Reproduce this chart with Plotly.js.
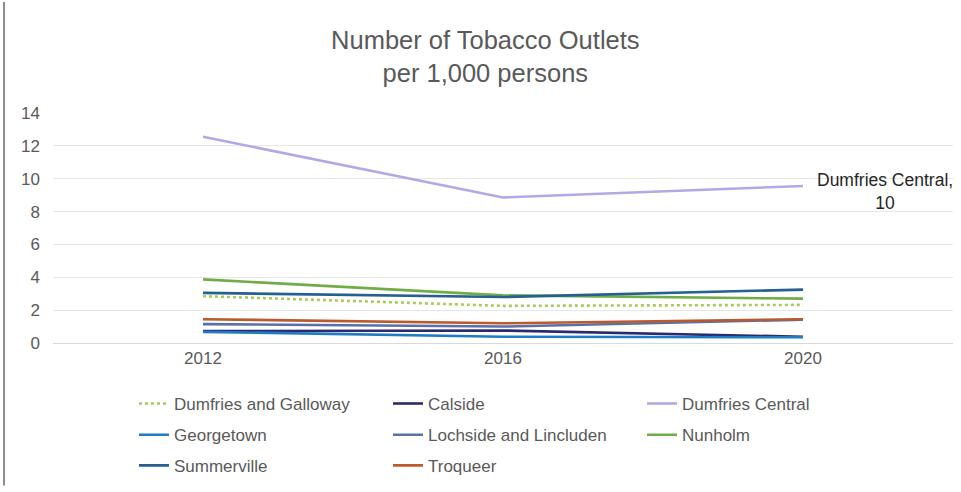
<!DOCTYPE html>
<html>
<head>
<meta charset="utf-8">
<script src="https://cdn.plot.ly/plotly-3.0.1.min.js"></script>
<style>
  html, body { margin: 0; padding: 0; background: #fff; }
  #chart { width: 961px; height: 492px; }
</style>
</head>
<body>
<div id="chart"></div>
<script>
const years = ['2012', '2016', '2020'];
const seriesNames = ['Dumfries and Galloway', 'Calside', 'Dumfries Central', 'Georgetown',
                     'Lochside and Lincluden', 'Nunholm', 'Summerville', 'Troqueer'];
const dumfriesGalloway = [2.85, 2.26, 2.32];
const calside = [0.72, 0.76, 0.38];
const dumfriesCentral = [12.55, 8.86, 9.56];
const georgetown = [0.68, 0.38, 0.35];
const lochside = [1.15, 1.0, 1.42];
const nunholm = [3.87, 2.9, 2.7];
const summerville = [3.05, 2.8, 3.25];
const troqueer = [1.45, 1.2, 1.45];
const yTicks = [0, 2, 4, 6, 8, 10, 12, 14];

const values = [dumfriesGalloway, calside, dumfriesCentral, georgetown, lochside, nunholm, summerville, troqueer];
const colors = ['#a9c95b', '#2b2a6e', '#b3a8e6', '#1f7bc4', '#5a70a8', '#70ad47', '#265f92', '#bb5a2c'];
const dashes = ['dot', 'solid', 'solid', 'solid', 'solid', 'solid', 'solid', 'solid'];
const legendRow = ['legend', 'legend', 'legend', 'legend2', 'legend2', 'legend2', 'legend3', 'legend3'];

const FONT = '"Liberation Sans", Arial, sans-serif';
const GREY = '#595959';

const traces = seriesNames.map((name, i) => ({
  type: 'scatter',
  mode: 'lines',
  name: name,
  x: years,
  y: values[i],
  line: { color: colors[i], width: 2.6, dash: dashes[i] },
  legend: legendRow[i],
  hoverinfo: 'skip'
}));

const lastIdx = years.length - 1;
const legendBase = {
  orientation: 'h',
  xanchor: 'left',
  yanchor: 'middle',
  x: 0.09,
  entrywidth: 209,
  entrywidthmode: 'pixels',
  font: { family: FONT, size: 17, color: GREY },
  bgcolor: 'rgba(0,0,0,0)',
  itemclick: false,
  itemdoubleclick: false
};

const layout = {
  width: 961,
  height: 492,
  margin: { l: 53, r: 8, t: 113, b: 145 },
  paper_bgcolor: '#ffffff',
  plot_bgcolor: '#ffffff',
  font: { family: FONT, color: GREY },
  title: {
    text: 'Number of Tobacco Outlets<br>per 1,000 persons',
    font: { family: FONT, size: 25.5, color: GREY },
    x: 0.505,
    xanchor: 'center',
    xref: 'container',
    y: 0.90,
    yanchor: 'top',
    yref: 'container'
  },
  xaxis: {
    type: 'category',
    categoryorder: 'array',
    categoryarray: years,
    range: [-0.5, 2.5],
    showgrid: false,
    showline: true,
    linecolor: '#d9d9d9',
    linewidth: 1,
    ticks: '',
    tickfont: { family: FONT, size: 17, color: GREY },
    fixedrange: true
  },
  yaxis: {
    range: [0, 14],
    tickvals: yTicks,
    ticktext: yTicks.map(String),
    showgrid: true,
    gridcolor: '#e6e6e6',
    gridwidth: 1,
    zeroline: false,
    showline: false,
    ticks: '',
    ticklabelstandoff: 12,
    tickfont: { family: FONT, size: 17, color: GREY },
    fixedrange: true
  },
  legend: Object.assign({}, legendBase, { y: -0.265 }),
  legend2: Object.assign({}, legendBase, { y: -0.401 }),
  legend3: Object.assign({}, legendBase, { y: -0.534 }),
  annotations: [{
    x: lastIdx,
    y: dumfriesCentral[lastIdx],
    xref: 'x',
    yref: 'y',
    text: 'Dumfries Central,<br>' + Math.round(dumfriesCentral[lastIdx]),
    showarrow: false,
    xanchor: 'left',
    yanchor: 'middle',
    xshift: 12,
    yshift: -6,
    align: 'center',
    font: { family: FONT, size: 17.5, color: '#262626' }
  }],
  shapes: [{
    type: 'line',
    xref: 'paper', yref: 'paper',
    x0: -0.0544, x1: -0.0544,
    y0: -0.62, y1: 1.483,
    line: { color: '#8c8c8c', width: 2 }
  }]
};

Plotly.newPlot('chart', traces, layout, { displayModeBar: false, staticPlot: true });
</script>
</body>
</html>
